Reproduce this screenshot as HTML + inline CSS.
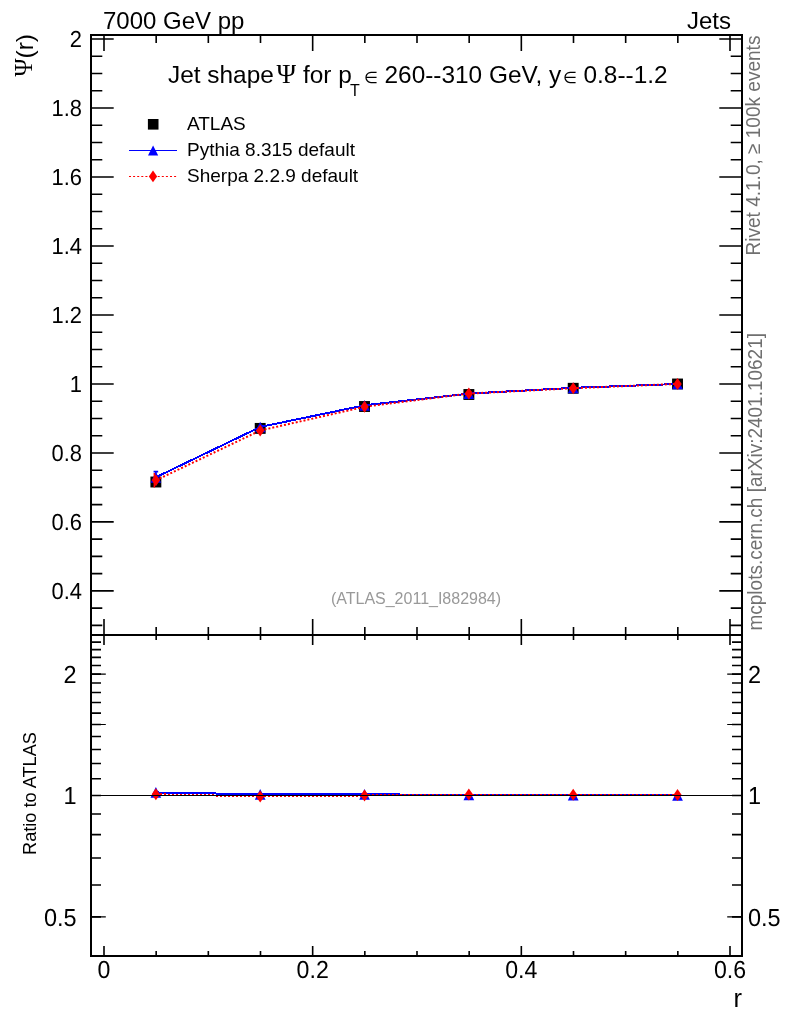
<!DOCTYPE html>
<html><head><meta charset="utf-8"><title>Jet shape</title>
<style>html,body{margin:0;padding:0;background:#fff;overflow:hidden}svg{display:block;will-change:transform}</style>
</head><body><svg width="786" height="1024" viewBox="0 0 786 1024"><rect width="100%" height="100%" fill="#fff"/><path d="M104.00 35V51M104.00 635V619M104.00 635V645M104.00 956V946M156.17 35V43M156.17 635V627M156.17 635V640M156.17 956V951M208.33 35V43M208.33 635V627M208.33 635V640M208.33 956V951M260.50 35V43M260.50 635V627M260.50 635V640M260.50 956V951M312.67 35V51M312.67 635V619M312.67 635V645M312.67 956V946M364.83 35V43M364.83 635V627M364.83 635V640M364.83 956V951M417.00 35V43M417.00 635V627M417.00 635V640M417.00 956V951M469.17 35V43M469.17 635V627M469.17 635V640M469.17 956V951M521.33 35V51M521.33 635V619M521.33 635V645M521.33 956V946M573.50 35V43M573.50 635V627M573.50 635V640M573.50 956V951M625.67 35V43M625.67 635V627M625.67 635V640M625.67 956V951M677.83 35V43M677.83 635V627M677.83 635V640M677.83 956V951M730.00 35V51M730.00 635V619M730.00 635V645M730.00 956V946M91 625.40H102.3M742 625.40H730.7M91 608.15H102.3M742 608.15H730.7M91 590.90H113.7M742 590.90H719.3M91 573.66H102.3M742 573.66H730.7M91 556.41H102.3M742 556.41H730.7M91 539.16H102.3M742 539.16H730.7M91 521.92H113.7M742 521.92H719.3M91 504.67H102.3M742 504.67H730.7M91 487.42H102.3M742 487.42H730.7M91 470.18H102.3M742 470.18H730.7M91 452.93H113.7M742 452.93H719.3M91 435.68H102.3M742 435.68H730.7M91 418.43H102.3M742 418.43H730.7M91 401.19H102.3M742 401.19H730.7M91 383.94H113.7M742 383.94H719.3M91 366.69H102.3M742 366.69H730.7M91 349.45H102.3M742 349.45H730.7M91 332.20H102.3M742 332.20H730.7M91 314.95H113.7M742 314.95H719.3M91 297.70H102.3M742 297.70H730.7M91 280.46H102.3M742 280.46H730.7M91 263.21H102.3M742 263.21H730.7M91 245.96H113.7M742 245.96H719.3M91 228.72H102.3M742 228.72H730.7M91 211.47H102.3M742 211.47H730.7M91 194.22H102.3M742 194.22H730.7M91 176.98H113.7M742 176.98H719.3M91 159.73H102.3M742 159.73H730.7M91 142.48H102.3M742 142.48H730.7M91 125.23H102.3M742 125.23H730.7M91 107.99H113.7M742 107.99H719.3M91 90.74H102.3M742 90.74H730.7M91 73.49H102.3M742 73.49H730.7M91 56.25H102.3M742 56.25H730.7M91 39.00H113.7M742 39.00H719.3M91 956.00H101M742 956.00H732M91 916.91H101M742 916.91H732M91 884.98H101M742 884.98H732M91 857.98H101M742 857.98H732M91 834.59H101M742 834.59H732M91 813.96H101M742 813.96H732M91 795.50H101M742 795.50H732M91 778.81H101M742 778.81H732M91 763.56H101M742 763.56H732M91 749.54H101M742 749.54H732M91 736.56H101M742 736.56H732M91 724.48H101M742 724.48H732M91 713.17H101M742 713.17H732M91 702.55H101M742 702.55H732M91 692.54H101M742 692.54H732M91 683.07H101M742 683.07H732M91 674.09H101M742 674.09H732M91 665.54H101M742 665.54H732M91 657.39H101M742 657.39H732M91 649.61H101M742 649.61H732M91 642.15H101M742 642.15H732M91 635.00H101M742 635.00H732" stroke="#000" stroke-width="1.6" fill="none"/><path d="M91 916.91H105.8M742 916.91H727.2M91 795.50H105.8M742 795.50H727.2M91 724.48H105.8M742 724.48H727.2M91 674.09H105.8M742 674.09H727.2" stroke="#000" stroke-width="1.15" fill="none"/><path d="M91 35H742V956H91ZM91 635H742" stroke="#000" stroke-width="2" fill="none" stroke-linejoin="miter"/><rect x="150.42" y="476.55" width="10.90" height="10.90" fill="#000"/><rect x="254.75" y="422.95" width="10.90" height="10.90" fill="#000"/><rect x="359.08" y="401.05" width="10.90" height="10.90" fill="#000"/><rect x="463.42" y="389.05" width="10.90" height="10.90" fill="#000"/><rect x="567.75" y="382.85" width="10.90" height="10.90" fill="#000"/><rect x="672.08" y="378.55" width="10.90" height="10.90" fill="#000"/><polyline points="155.87,477.30 260.20,427.00 364.53,405.30 468.87,393.60 573.20,387.80 677.53,384.00" stroke="#00f" stroke-width="2" fill="none" shape-rendering="crispEdges"/><path d="M150.52 482.65H161.22L155.87 471.95Z" fill="#00f"/><path d="M254.85 432.35H265.55L260.20 421.65Z" fill="#00f"/><path d="M359.18 410.65H369.88L364.53 399.95Z" fill="#00f"/><path d="M463.52 398.95H474.22L468.87 388.25Z" fill="#00f"/><path d="M567.85 393.15H578.55L573.20 382.45Z" fill="#00f"/><path d="M672.18 389.35H682.88L677.53 378.65Z" fill="#00f"/><path d="M153.57 471.6H158.17M155.87 471.6V477" stroke="#00f" stroke-width="1.6"/><polyline points="155.87,480.30 260.20,430.50 364.53,406.80 468.87,393.60 573.20,388.20 677.53,383.90" stroke="#f00" stroke-width="2" stroke-dasharray="2 2" fill="none"/><path d="M155.87 474.30L160.02 480.30L155.87 486.30L151.72 480.30Z" fill="#f00"/><path d="M260.20 424.50L264.35 430.50L260.20 436.50L256.05 430.50Z" fill="#f00"/><path d="M364.53 400.80L368.68 406.80L364.53 412.80L360.38 406.80Z" fill="#f00"/><path d="M468.87 387.60L473.02 393.60L468.87 399.60L464.72 393.60Z" fill="#f00"/><path d="M573.20 382.20L577.35 388.20L573.20 394.20L569.05 388.20Z" fill="#f00"/><path d="M677.53 377.90L681.68 383.90L677.53 389.90L673.38 383.90Z" fill="#f00"/><path d="M154.37 473V487.5" stroke="#f00" stroke-width="1.6"/><polyline points="155.87,792.45 260.20,794.30 364.53,794.30 468.87,794.90 573.20,795.20 677.53,795.40" stroke="#00f" stroke-width="2" fill="none" shape-rendering="crispEdges"/><path d="M150.52 797.80H161.22L155.87 787.10Z" fill="#00f"/><path d="M254.85 799.65H265.55L260.20 788.95Z" fill="#00f"/><path d="M359.18 799.65H369.88L364.53 788.95Z" fill="#00f"/><path d="M463.52 800.25H474.22L468.87 789.55Z" fill="#00f"/><path d="M567.85 800.55H578.55L573.20 789.85Z" fill="#00f"/><path d="M672.18 800.75H682.88L677.53 790.05Z" fill="#00f"/><polyline points="155.87,794.30 260.20,796.40 364.53,795.50 468.87,794.60 573.20,794.80 677.53,795.10" stroke="#f00" stroke-width="2" stroke-dasharray="2 2" fill="none" shape-rendering="crispEdges"/><path d="M155.87 788.30L160.02 794.30L155.87 800.30L151.72 794.30Z" fill="#f00"/><path d="M260.20 790.40L264.35 796.40L260.20 802.40L256.05 796.40Z" fill="#f00"/><path d="M364.53 789.50L368.68 795.50L364.53 801.50L360.38 795.50Z" fill="#f00"/><path d="M468.87 788.60L473.02 794.60L468.87 800.60L464.72 794.60Z" fill="#f00"/><path d="M573.20 788.80L577.35 794.80L573.20 800.80L569.05 794.80Z" fill="#f00"/><path d="M677.53 789.10L681.68 795.10L677.53 801.10L673.38 795.10Z" fill="#f00"/><path d="M91 795.5H742" stroke="#000" stroke-width="1.2"/><rect x="147.90" y="119.00" width="10.60" height="10.60" fill="#000"/><path d="M129 150.5H177" stroke="#00f" stroke-width="1.2"/><path d="M148.00 155.60H158.20L153.10 145.40Z" fill="#00f"/><path d="M129 176.5H177" stroke="#f00" stroke-width="1.2" stroke-dasharray="2 2.1"/><path d="M153.00 170.50L157.15 176.40L153.00 182.30L148.85 176.40Z" fill="#f00"/><g style='font-family:"Liberation Sans",Arial,sans-serif'><text x="103" y="28.5" font-size="24" text-anchor="start" fill="#000" >7000 GeV pp</text><text x="731" y="29" font-size="24" text-anchor="end" fill="#000" >Jets</text><text x="168" y="82.8" font-size="24.4" text-anchor="start" fill="#000" >Jet shape</text><text x="276.5" y="82.8" font-size="26.5" font-family="Liberation Serif,serif">Ψ</text><text x="303" y="82.8" font-size="24.4" text-anchor="start" fill="#000" >for p</text><text x="350" y="95.6" font-size="16" text-anchor="start" fill="#000" >T</text><text x="364.4" y="83" font-size="15.8" text-anchor="start" fill="#000" >∈</text><text x="384.5" y="82.8" font-size="24.4" text-anchor="start" fill="#000" >260--310 GeV, y</text><text x="563.2" y="83" font-size="15.8" text-anchor="start" fill="#000" >∈</text><text x="583.5" y="82.8" font-size="24.4" text-anchor="start" fill="#000" >0.8--1.2</text><text x="187" y="129.6" font-size="19" text-anchor="start" fill="#000" >ATLAS</text><text x="187" y="155.8" font-size="19" text-anchor="start" fill="#000" >Pythia 8.315 default</text><text x="187" y="182" font-size="19" text-anchor="start" fill="#000" >Sherpa 2.2.9 default</text><text transform="translate(82.00,47.10) scale(0.94,1)" font-size="23.3" text-anchor="end" text-rendering="geometricPrecision" >2</text><text transform="translate(82.00,116.09) scale(0.94,1)" font-size="23.3" text-anchor="end" text-rendering="geometricPrecision" >1.8</text><text transform="translate(82.00,185.08) scale(0.94,1)" font-size="23.3" text-anchor="end" text-rendering="geometricPrecision" >1.6</text><text transform="translate(82.00,254.06) scale(0.94,1)" font-size="23.3" text-anchor="end" text-rendering="geometricPrecision" >1.4</text><text transform="translate(82.00,323.05) scale(0.94,1)" font-size="23.3" text-anchor="end" text-rendering="geometricPrecision" >1.2</text><text transform="translate(82.00,392.04) scale(0.94,1)" font-size="23.3" text-anchor="end" text-rendering="geometricPrecision" >1</text><text transform="translate(82.00,461.03) scale(0.94,1)" font-size="23.3" text-anchor="end" text-rendering="geometricPrecision" >0.8</text><text transform="translate(82.00,530.02) scale(0.94,1)" font-size="23.3" text-anchor="end" text-rendering="geometricPrecision" >0.6</text><text transform="translate(82.00,599.00) scale(0.94,1)" font-size="23.3" text-anchor="end" text-rendering="geometricPrecision" >0.4</text><text transform="translate(76.60,682.89) scale(0.955,1)" font-size="24.6" text-anchor="end" text-rendering="geometricPrecision" >2</text><text transform="translate(748.00,682.89) scale(0.955,1)" font-size="24.6" text-anchor="start" text-rendering="geometricPrecision" >2</text><text transform="translate(76.60,804.30) scale(0.955,1)" font-size="24.6" text-anchor="end" text-rendering="geometricPrecision" >1</text><text transform="translate(748.00,804.30) scale(0.955,1)" font-size="24.6" text-anchor="start" text-rendering="geometricPrecision" >1</text><text transform="translate(76.60,925.71) scale(0.955,1)" font-size="24.6" text-anchor="end" text-rendering="geometricPrecision" >0.5</text><text transform="translate(748.00,925.71) scale(0.955,1)" font-size="24.6" text-anchor="start" text-rendering="geometricPrecision" >0.5</text><text transform="translate(104.00,978.00) scale(0.94,1)" font-size="24.6" text-anchor="middle" text-rendering="geometricPrecision" >0</text><text transform="translate(312.67,978.00) scale(0.94,1)" font-size="24.6" text-anchor="middle" text-rendering="geometricPrecision" >0.2</text><text transform="translate(521.33,978.00) scale(0.94,1)" font-size="24.6" text-anchor="middle" text-rendering="geometricPrecision" >0.4</text><text transform="translate(730.00,978.00) scale(0.94,1)" font-size="24.6" text-anchor="middle" text-rendering="geometricPrecision" >0.6</text><text x="742" y="1006.8" font-size="25.5" text-anchor="end" fill="#000" >r</text><text transform="translate(32.6,34) rotate(-90)" font-size="24.5" text-anchor="end"><tspan font-family="Liberation Serif,serif" dy="-0.8">Ψ</tspan><tspan dy="0.8">(r)</tspan></text><text transform="translate(35.9,793.5) rotate(-90)" font-size="18.2" text-anchor="middle">Ratio to ATLAS</text></g><g style='font-family:"Liberation Sans",Arial,sans-serif' fill="#707070"><text transform="translate(760,255.5) rotate(-90) scale(0.952,1)" font-size="20">Rivet 4.1.0, ≥ 100k events</text><text transform="translate(762,630.5) rotate(-90) scale(0.94,1)" font-size="20.2">mcplots.cern.ch [arXiv:2401.10621]</text></g><g style='font-family:"Liberation Sans",Arial,sans-serif'><text x="416" y="603.9" font-size="16" text-anchor="middle" fill="#999999" >(ATLAS_2011_I882984)</text></g></svg></body></html>
